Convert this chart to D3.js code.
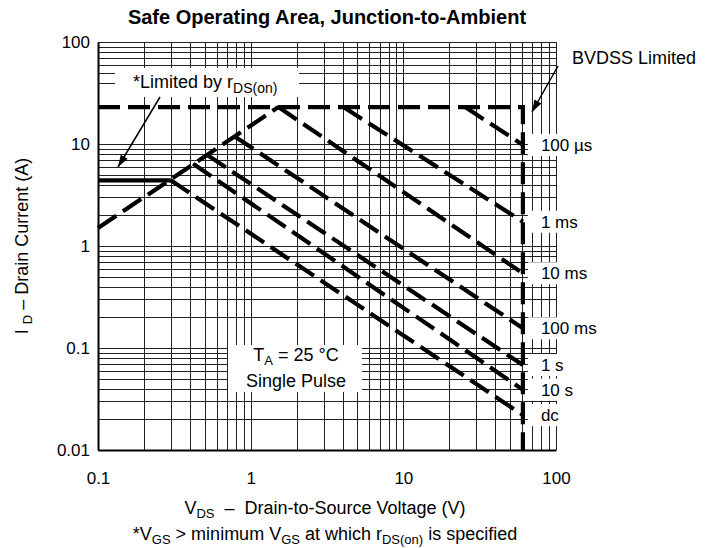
<!DOCTYPE html>
<html><head><meta charset="utf-8">
<script src="https://cdn.jsdelivr.net/npm/d3@7"></script>
<style>
body{margin:0;background:#fff}
svg{display:block}
text{font-family:"Liberation Sans",Arial,Helvetica,sans-serif;fill:#000}
</style>
</head><body>
<svg id="c" width="705" height="548"></svg>
<script>
// ---- data ----
const xTickValues = [0.1, 1, 10, 100];
const xTickLabels = ["0.1", "1", "10", "100"];
const yTickValues = [0.01, 0.1, 1, 10, 100];
const yTickLabels = ["0.01", "0.1", "1", "10", "100"];
const bvdss = 60.7;        // V, breakdown limit
const currentLimit = 23;   // A, package limit
const boundary = [[0.1, currentLimit], [bvdss, currentLimit], [bvdss, 0.01]];
const rdsLimitLine = [[0.1, 1.5], [1.52, currentLimit]];
const rdsSolid = [[0.1, 4.4], [0.3, 4.4]];
const pulseLabels = ["100 \u00b5s", "1 ms", "10 ms", "100 ms", "1 s", "10 s", "dc"];
const pulseStart = [[25.4, 23], [4.05, 23], [1.52, 23], [0.79, 11.8], [0.52, 7.8], [0.42, 6.4], [0.3, 4.4]];
const pulseEndI = [9.8, 1.73, 0.54, 0.156, 0.068, 0.039, 0.022];

// ---- layout ----
const svg = d3.select("#c");
const x = d3.scaleLog().domain([0.1, 100]).range([98, 556]);
const y = d3.scaleLog().domain([0.01, 100]).range([450, 42]);

// grid
const gx = [], gy = [];
for (let e = -1; e <= 1; e++) for (let k = 1; k <= 9; k++) gx.push(k * Math.pow(10, e));
gx.push(100);
for (let e = -2; e <= 1; e++) for (let k = 1; k <= 9; k++) {
  const v = k * Math.pow(10, e);
  if (e === 1 && (k === 2 || k === 3)) continue;
  gy.push(v);
}
gy.push(100);
const grid = svg.append("g").attr("stroke", "#222").attr("stroke-width", 1).attr("shape-rendering", "crispEdges");
grid.selectAll("line.v").data(gx).join("line").attr("class", "v")
  .attr("x1", d => Math.round(x(d)) + 0.5).attr("x2", d => Math.round(x(d)) + 0.5)
  .attr("y1", y(100)).attr("y2", y(0.01));
grid.selectAll("line.h").data(gy).join("line").attr("class", "h")
  .attr("y1", d => Math.round(y(d)) + 0.5).attr("y2", d => Math.round(y(d)) + 0.5)
  .attr("x1", x(0.1)).attr("x2", x(100));

// axes (labels only, frame)
const xAxis = d3.axisBottom(x).tickValues(xTickValues).tickFormat((d, i) => xTickLabels[i]).tickSize(0).tickPadding(22);
const gxa = svg.append("g").attr("transform", `translate(0,${y(0.01)})`).call(xAxis);
gxa.select(".domain").attr("stroke", "#000").attr("stroke-width", 2);
gxa.selectAll("text").attr("font-size", 17).attr("font-family", "Liberation Sans, Arial, sans-serif");
const yAxis = d3.axisLeft(y).tickValues(yTickValues).tickFormat((d, i) => yTickLabels[i]).tickSize(0).tickPadding(8);
const gya = svg.append("g").attr("transform", `translate(${x(0.1)},0)`).call(yAxis);
gya.select(".domain").attr("stroke", "#000").attr("stroke-width", 2);
gya.selectAll("text").attr("font-size", 17).attr("font-family", "Liberation Sans, Arial, sans-serif");

// white label boxes
function box(x0, y0, w, h) {
  svg.append("rect").attr("x", x0).attr("y", y0).attr("width", w).attr("height", h).attr("fill", "#fff");
}
box(115, 68, 184, 29);      // limited by rds
box(228, 345, 134, 47);     // TA box

// right-hand labels (boxes first)
const labG = svg.append("g");
pulseLabels.forEach((lab, i) => {
  const yy = y(pulseEndI[i]);
  const r = labG.append("rect").attr("fill", "#fff");
  const t = labG.append("text").attr("x", x(bvdss) + 18).attr("y", yy).attr("dy", "0.35em")
    .attr("font-size", 17).text(lab);
  const w = t.node().getComputedTextLength();
  r.attr("x", x(bvdss) + 5).attr("y", yy - 11).attr("width", w + 16).attr("height", 22);
});

// curves
const line = d3.line().x(d => x(d[0])).y(d => y(d[1]));
const curves = svg.append("g").attr("fill", "none").attr("stroke", "#000").attr("stroke-width", 4.2);
curves.append("path").attr("d", line(boundary)).attr("stroke-dasharray", "22,8");
curves.append("path").attr("d", line(rdsLimitLine)).attr("stroke-dasharray", "22,8");
curves.append("path").attr("d", line(rdsSolid));
pulseStart.forEach((s, i) => {
  curves.append("path").attr("d", line([s, [bvdss, pulseEndI[i]]])).attr("stroke-dasharray", "22,8");
});

// annotations
const lim = svg.append("text").attr("x", 133).attr("y", 88).attr("font-size", 18);
lim.append("tspan").text("*Limited by r");
lim.append("tspan").attr("dy", 5).attr("font-size", 14).text("DS(on)");

function arrow(x1, y1, x2, y2) {
  svg.append("line").attr("x1", x1).attr("y1", y1).attr("x2", x2).attr("y2", y2)
    .attr("stroke", "#000").attr("stroke-width", 1.5);
  const a = Math.atan2(y2 - y1, x2 - x1), L = 12, W = 4;
  const bx = x2 - L * Math.cos(a), by = y2 - L * Math.sin(a);
  const p = [[x2, y2], [bx + W * Math.sin(a), by - W * Math.cos(a)], [bx - W * Math.sin(a), by + W * Math.cos(a)]];
  svg.append("path").attr("d", "M" + p.join("L") + "Z").attr("fill", "#000");
}
arrow(160, 97, 118, 167);
arrow(558, 66, 532, 112);

svg.append("text").attr("x", 572).attr("y", 64).attr("font-size", 18).text("BVDSS Limited");

const ta = svg.append("text").attr("x", 296).attr("y", 361).attr("text-anchor", "middle").attr("font-size", 18);
ta.append("tspan").text("T");
ta.append("tspan").attr("dy", 4).attr("font-size", 13).text("A");
ta.append("tspan").attr("dy", -4).text(" = 25 \u00b0C");
svg.append("text").attr("x", 296).attr("y", 387).attr("text-anchor", "middle").attr("font-size", 18).text("Single Pulse");

// title
svg.append("text").attr("x", 327).attr("y", 24).attr("text-anchor", "middle")
  .attr("font-size", 20).attr("font-weight", "bold").text("Safe Operating Area, Junction-to-Ambient");

// axis titles
const xl = svg.append("text").attr("x", 325).attr("y", 514).attr("text-anchor", "middle").attr("font-size", 18).style("white-space", "pre");
xl.append("tspan").text("V");
xl.append("tspan").attr("dy", 4).attr("font-size", 13).text("DS");
xl.append("tspan").attr("dy", -4).text("  \u2013  Drain-to-Source Voltage (V)");

const fn = svg.append("text").attr("x", 325).attr("y", 540).attr("text-anchor", "middle").attr("font-size", 18);
fn.append("tspan").text("*V");
fn.append("tspan").attr("dy", 4).attr("font-size", 13).text("GS");
fn.append("tspan").attr("dy", -4).text(" > minimum V");
fn.append("tspan").attr("dy", 4).attr("font-size", 13).text("GS");
fn.append("tspan").attr("dy", -4).text(" at which r");
fn.append("tspan").attr("dy", 4).attr("font-size", 13).text("DS(on)");
fn.append("tspan").attr("dy", -4).text(" is specified");

const yl = svg.append("text").attr("transform", "translate(28,246) rotate(-90)").attr("text-anchor", "middle").attr("font-size", 18);
yl.append("tspan").text("I ");
yl.append("tspan").attr("dy", 4).attr("font-size", 13).text("D");
yl.append("tspan").attr("dy", -4).text(" \u2013 Drain Current (A)");
</script>
</body></html>
